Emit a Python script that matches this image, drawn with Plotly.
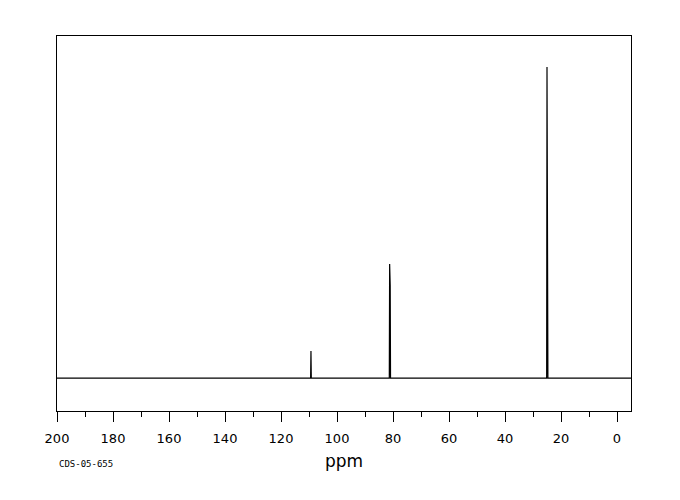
import plotly.graph_objects as go

# Peak data (ppm, relative intensity)
peak_ppm = [109.3, 81.2, 81.0, 25.0, 24.8]
peak_int = [87, 367, 299, 1000, 235]
x_start, x_end = 200, -5
x_ticks = [200, 180, 160, 140, 120, 100, 80, 60, 40, 20, 0]

# build stick spectrum from data
xs = [x_start]
ys = [0]
half = 0.12
for p, h in sorted(zip(peak_ppm, peak_int), key=lambda t: -t[0]):
    xs += [p + half, p, p - half]
    ys += [0, h, 0]
xs.append(x_end)
ys.append(0)

fig = go.Figure()
fig.add_trace(go.Scatter(x=xs, y=ys, mode="lines",
                         line=dict(color="black", width=1.2),
                         hoverinfo="skip", showlegend=False))

fig.update_layout(
    width=680, height=500,
    margin=dict(l=49, r=57, t=28, b=97),
    paper_bgcolor="white", plot_bgcolor="white",
    font=dict(family="DejaVu Sans", color="black"),
    xaxis=dict(
        range=[x_start, x_end], autorange=False,
        showline=True, linecolor="black", linewidth=1, mirror=True,
        showgrid=False, zeroline=False,
        ticks="outside", ticklen=10, tickwidth=1, tickcolor="black",
        tickvals=x_ticks, ticktext=[str(v) for v in x_ticks],
        tickfont=dict(size=13, family="DejaVu Sans"),
        ticklabelstandoff=5,
        minor=dict(dtick=10, ticks="outside", ticklen=5, tickcolor="black", tickwidth=1),
        title=dict(text="ppm", font=dict(size=17, family="DejaVu Sans"), standoff=10),
    ),
    yaxis=dict(
        range=[-106, 1100], autorange=False,
        showline=True, linecolor="black", linewidth=1, mirror=True,
        showgrid=False, zeroline=False, showticklabels=False, ticks="",
    ),
)

fig.add_annotation(text="CDS-05-655", xref="paper", yref="paper",
                   x=0, y=-0.14, xanchor="left", yanchor="middle",
                   showarrow=False,
                   font=dict(size=9, family="DejaVu Sans Mono"))

fig.write_html("out.html")
